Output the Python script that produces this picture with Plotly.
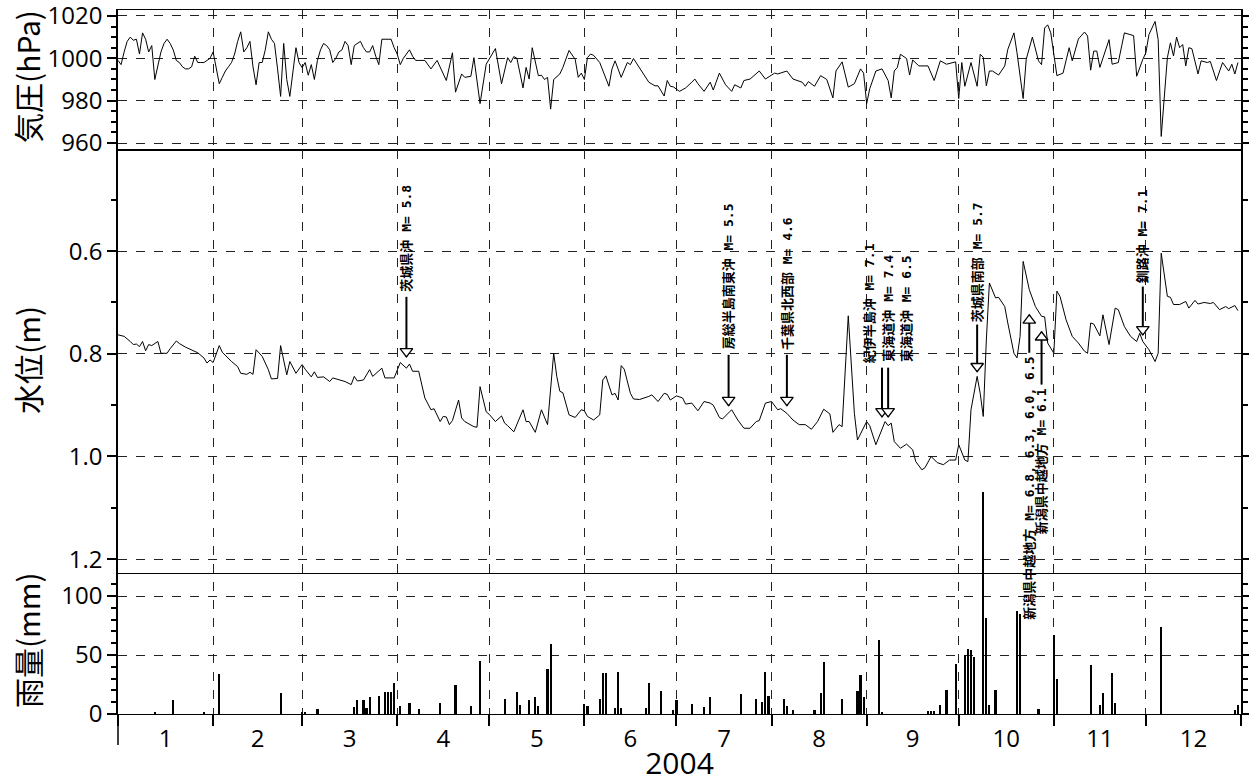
import pandas as pd
import plotly.graph_objects as go
from plotly.subplots import make_subplots

# ---------------------------------------------------------------- data
# day offsets count from 2004-01-01 (day 0)

pressure_day = list(range(99)) + [
    100, 102, 104, 107, 109, 110, 112, 113, 115, 116,
    118, 120, 122, 123, 125, 126, 127, 128, 129, 130,
    132, 133, 134, 135, 137, 138, 139, 140, 141, 142,
    144, 145, 147, 149, 150, 151, 152, 153, 154, 155,
    157, 160, 161, 162, 164, 166, 167, 168, 171, 173,
    175, 176, 178, 179, 180, 181, 183, 185, 187, 188,
    189, 191, 193, 194, 196, 198, 200, 201, 203, 204,
    206, 209, 211, 214, 215, 218, 220, 223, 224, 225,
    227, 229, 231, 233, 234, 236, 238, 240, 242, 243,
    244, 245, 247, 249, 251, 252, 253, 254, 255, 257,
    258, 259, 261, 264, 266, 268, 270, 273, 274, 275,
    276, 278, 280, 281, 282, 283, 284, 285, 287, 289,
    290, 292, 293, 295, 296, 298, 300, 301, 302, 303,
    304, 306, 308, 310, 311, 313, 315, 316, 317, 318,
    319, 320, 323, 324, 326, 328, 331, 332, 334, 335,
    336, 338, 339, 340, 342, 343, 344, 345, 346, 347,
    348, 349, 350, 352, 353, 355, 356, 358, 360, 362,
    363, 364, 365,
]
pressure_hpa = [
    999, 997, 1003, 1008, 1010, 1008.5, 1009, 1002, 1012, 1009,
    1003, 1006, 990, 997, 1003, 1007, 1009, 1007, 1004, 999,
    998, 996, 995, 995, 996, 1001, 998, 998, 998, 999,
    1000, 1003, 996, 988, 991, 994, 996, 998, 1002, 1008,
    1012.5, 1003, 1005, 1008, 996, 987.5, 998, 998, 1004, 1012.5,
    1009, 1007, 995, 982, 1007, 990, 982, 995, 1005, 998,
    995.6, 998, 992, 997, 990, 999, 1004, 1007, 1006, 1004,
    998, 1000, 1003, 1004, 1008, 1006, 997, 1006, 1007, 1008,
    1005, 1003, 1003, 1006, 1001, 997, 1009, 1009, 1009, 1009,
    1005, 1002, 997, 1000, 1002, 1004, 1001, 999, 999,
    999, 995, 999, 989.5, 1002.6, 984, 992.6, 991, 991.5, 1000.3,
    978.6, 997.2, 1002.6, 1004.6, 988, 995, 1000.3, 998, 1000.8, 1000,
    986, 995.7, 990.2, 1005, 991.8, 992, 990, 991, 976, 990,
    992.6, 995.7, 1003.7, 999.5, 991, 993, 990, 1000.3, 1002, 1001.4,
    998, 986.8, 995, 998.8, 991, 998, 997, 999.9, 993.3, 988.7,
    987, 987, 982.2, 989.5, 986.8, 986.5, 984.4, 986, 988.7, 990.2,
    988, 984.4, 988.7, 985, 993, 987.5, 984.4, 987.5, 986, 989.5,
    990.2, 994, 990.2, 993, 992.6, 994, 990.2, 988.7, 986.8, 989,
    986.8, 991.8, 990, 981.3, 994, 998.3, 986.4, 988, 995, 993,
    978.6, 985.6, 994, 995, 989.5, 981.3, 994, 995.7, 1001.9, 999.9,
    992.1, 999.2, 996.4, 996.4, 989.5, 998.8, 997.2, 998.3, 981, 998,
    986.8, 998, 986.8, 1001.9, 1000.5, 987, 994, 994, 992.1, 996.4,
    1004.2, 1012, 1002.6, 981, 999.5, 1010, 998.8, 997, 1014.3, 1015.8,
    1012, 991.8, 993, 1005, 998.8, 1009.1, 1012.4, 1010.5, 994.4, 1003.4,
    1003.4, 995.7, 1008.8, 997.2, 998, 1012, 1010.7, 991.5, 999.5, 1002.6,
    1011.2, 1017.4, 1008.8, 963.1, 1000.3, 1007.3, 1001.1, 1010, 1005, 1006.5,
    996.4, 1005, 1004.5, 992.6, 998.8, 998, 998.5, 989.5, 998, 994,
    997.2, 992.6, 998,
]

water_day = [
    0, 2, 4, 5, 6, 7, 8, 9, 10, 11,
    13, 14, 16, 17, 19, 20, 22, 26, 28, 29,
    30, 31, 33, 34, 37, 39, 40, 42, 43, 44,
    45, 47, 49, 50, 52, 53, 55, 56, 58, 60,
    61, 63, 64, 65, 67, 69, 70, 72, 74, 76,
    77, 78, 80, 82, 83, 86, 87, 90, 92, 94,
    95, 96, 98, 100, 102, 103, 105, 106, 107, 108,
    109, 111, 112, 113, 116, 117, 118, 120, 121, 123,
    125, 126, 127, 129, 132, 133, 134, 136, 138, 140,
    142, 143, 144, 145, 147, 149, 151, 152, 153, 155,
    157, 158, 159, 161, 162, 163, 164, 165, 167, 168,
    170, 173, 174, 176, 178, 179, 180, 182, 184, 185,
    187, 189, 191, 193, 194, 196, 197, 200, 202, 204,
    206, 208, 209, 211, 213, 215, 216, 218, 220, 222,
    224, 226, 228, 230, 232, 233, 235, 236, 238, 240,
    241, 244, 245, 247, 250, 251, 252, 253, 255, 257,
    259, 260, 262, 263, 265, 267, 269, 271, 273, 274,
    276, 277, 278, 280, 281, 282, 283, 284, 286, 287,
    289, 290, 292, 293, 294, 295, 297, 299, 301, 302,
    303, 305, 306, 307, 309, 311, 313, 315, 316, 317,
    318, 320, 321, 323, 325, 326, 328, 330, 332, 333,
    334, 336, 338, 339, 340, 342, 343, 344, 346, 348,
    349, 351, 352, 354, 356, 357, 359, 361, 362, 364,
    365,
]
water_m = [
    0.763, 0.766, 0.776, 0.782, 0.781, 0.786, 0.776, 0.794, 0.782, 0.784,
    0.776, 0.799, 0.799, 0.790, 0.775, 0.780, 0.787, 0.798, 0.808, 0.818,
    0.812, 0.817, 0.784, 0.797, 0.815, 0.825, 0.838, 0.840, 0.836, 0.840,
    0.792, 0.805, 0.831, 0.849, 0.848, 0.784, 0.841, 0.815, 0.838, 0.821,
    0.830, 0.845, 0.835, 0.846, 0.845, 0.854, 0.847, 0.850, 0.854, 0.860,
    0.844, 0.853, 0.851, 0.831, 0.844, 0.828, 0.847, 0.847, 0.817, 0.828,
    0.820, 0.834, 0.834, 0.886, 0.909, 0.907, 0.932, 0.922, 0.923, 0.938,
    0.930, 0.890, 0.925, 0.932, 0.942, 0.943, 0.864, 0.913, 0.918, 0.932,
    0.921, 0.935, 0.940, 0.952, 0.909, 0.932, 0.932, 0.953, 0.909, 0.938,
    0.799, 0.844, 0.873, 0.876, 0.919, 0.924, 0.909, 0.911, 0.922, 0.929,
    0.919, 0.851, 0.843, 0.880, 0.877, 0.890, 0.823, 0.830, 0.877, 0.888,
    0.889, 0.883, 0.880, 0.893, 0.877, 0.879, 0.890, 0.882, 0.886, 0.898,
    0.896, 0.911, 0.893, 0.896, 0.900, 0.924, 0.927, 0.909, 0.929, 0.945,
    0.945, 0.932, 0.930, 0.896, 0.893, 0.909, 0.907, 0.916, 0.929, 0.938,
    0.938, 0.947, 0.932, 0.908, 0.917, 0.953, 0.938, 0.942, 0.726, 0.916,
    0.968, 0.932, 0.940, 0.977, 0.932, 0.940, 0.935, 0.971, 0.984, 0.976,
    0.987, 1.010, 1.026, 1.022, 1.000, 1.012, 1.016, 1.007, 1.007, 0.977,
    1.007, 1.010, 0.909, 0.844, 0.877, 0.922, 0.773, 0.662, 0.691, 0.690,
    0.708, 0.740, 0.799, 0.808, 0.766, 0.620, 0.675, 0.708, 0.727, 0.728,
    0.779, 0.799, 0.678, 0.688, 0.734, 0.766, 0.779, 0.795, 0.799, 0.740,
    0.742, 0.765, 0.724, 0.782, 0.711, 0.714, 0.747, 0.766, 0.776, 0.760,
    0.776, 0.792, 0.815, 0.799, 0.604, 0.688, 0.690, 0.704, 0.704, 0.698,
    0.711, 0.696, 0.703, 0.700, 0.702, 0.700, 0.714, 0.708, 0.712, 0.706,
    0.716,
]

rain_day = [
    12, 18, 28, 33, 53, 60, 61, 65, 77, 78,
    80, 81, 82, 85, 87, 88, 89, 90, 92, 95,
    98, 105, 110, 115, 118, 126, 130, 131, 134, 136,
    137, 140, 141, 152, 153, 157, 158, 159, 162, 163,
    164, 172, 173, 177, 181, 182, 187, 191, 193, 203,
    208, 210, 211, 212, 217, 218, 220, 227, 229, 230,
    236, 241, 242, 243, 248, 249, 264, 265, 266, 268,
    270, 273, 276, 277, 278, 279, 282, 283, 284, 286,
    293, 294, 300, 305, 306, 317, 320, 321, 324, 325,
    340, 364, 365,
]
rain_mm = [
    2, 12, 2, 33.6, 17.5, 2, 2, 4, 6, 12,
    12, 5, 14, 15, 19, 19, 19, 26.5, 7, 9.6,
    4, 9, 24.6, 7, 45, 13, 18.4, 7.6, 12, 14.7,
    7, 37.8, 59.3, 8.5, 7, 13, 34.5, 34.5, 5, 35.8,
    5, 5, 26.5, 19.7, 3, 12, 8.2, 6, 14, 17,
    13, 10.4, 35.8, 15, 12.4, 7, 3, 3.4, 17.5, 44.3,
    12.4, 19.7, 33, 14, 62.7, 2, 2.5, 2.5, 2.5, 7.6,
    20.3, 42.4, 50, 54.8, 54.2, 48, 188, 81, 7.6, 20.3,
    87.5, 85, 4, 67, 29.4, 41.5, 7.6, 18, 34.5, 9.6,
    73.4, 3, 7.6,
]
rain_ticks = [0, 50, 100]
rain_minor_ticks = [10, 20, 30, 40, 60, 70, 80, 90, 110]

# earthquake captions: day, text, anchor level (m) and which end is anchored
quake_label_day = [94, 199, 218, 245, 251, 257, 280, 297, 301, 334]
quake_label_text = [
    "茨城県沖 M= 5.8",
    "房総半島南東沖 M= 5.5",
    "千葉県北西部 M= 4.6",
    "紀伊半島沖 M= 7.1",
    "東海道沖 M= 7.4",
    "東海道沖 M= 6.5",
    "茨城県南部 M= 5.7",
    "新潟県中越地方 M= 6.8, 6.3, 6.0, 6.5",
    "新潟県中越地方 M= 6.1",
    "釧路沖 M= 7.1",
]
quake_label_m = [0.681, 0.794, 0.794, 0.821, 0.818, 0.818, 0.740, 0.804, 0.866, 0.665]
quake_label_anchor = ["bottom"] * 7 + ["top", "top", "bottom"]

# earthquake arrows: day, tail level and tip level (m)
arrow_day = [94, 199, 218, 249, 251, 280, 297, 301, 334]
arrow_tail_m = [0.689, 0.802, 0.802, 0.827, 0.827, 0.743, 0.798, 0.860, 0.669]
arrow_tip_m = [0.806, 0.901, 0.901, 0.923, 0.923, 0.835, 0.724, 0.757, 0.763]

month_axis_title = "2004"

# ---------------------------------------------------------------- geometry
START = pd.Timestamp("2004-01-01")
X_RANGE = ["2004-01-01", "2005-01-01"]

PANEL_PX = [140, 423, 141]            # pressure, water level, rainfall heights
TOTAL_PX = sum(PANEL_PX)
RAIN_TOP = 119.5                      # rainfall maximum shown in the bottom panel (mm)
# the rainfall axis keeps its scale but runs on up behind the water-level
# panel, so a bar taller than the panel is not cut off
RAIN_DOMAIN_TOP = (PANEL_PX[1] + PANEL_PX[2]) / TOTAL_PX
RAIN_AXIS_TOP = RAIN_TOP * (PANEL_PX[1] + PANEL_PX[2]) / PANEL_PX[2]

WATER_RANGE = [1.227, 0.403]
PX_M = (WATER_RANGE[0] - WATER_RANGE[1]) / PANEL_PX[1]   # metres per pixel
HEAD = 11                                                # arrow-head marker size
HEAD_OFF = HEAD / 2 * PX_M

TICK_FONT = dict(family="Open Sans, DejaVu Sans", size=24, color="black")
CJK = "Noto Sans CJK JP"


def to_dates(days):
    return [START + pd.Timedelta(days=d) for d in days]


fig = make_subplots(rows=3, cols=1, shared_xaxes=True, vertical_spacing=0,
                    row_heights=PANEL_PX)

# rainfall
fig.add_trace(go.Bar(x=to_dates(rain_day), y=rain_mm, width=0.7 * 86400000,
                     marker=dict(color="black", line=dict(width=0))), row=3, col=1)

# pressure
fig.add_trace(go.Scatter(x=to_dates(pressure_day), y=pressure_hpa, mode="lines",
                         line=dict(color="black", width=1)), row=1, col=1)

# water level
fig.add_trace(go.Scatter(x=to_dates(water_day), y=water_m, mode="lines",
                         line=dict(color="black", width=1)), row=2, col=1)

# arrow shafts
ax_x, ax_y = [], []
for d, t0, t1 in zip(arrow_day, arrow_tail_m, arrow_tip_m):
    dt = START + pd.Timedelta(days=d)
    ax_x += [dt, dt, None]
    ax_y += [t0, t1, None]
fig.add_trace(go.Scatter(x=ax_x, y=ax_y, mode="lines",
                         line=dict(color="black", width=2)), row=2, col=1)

# hollow arrow heads (apex placed on the tip)
down = [(d, tip - HEAD_OFF) for d, t0, tip in zip(arrow_day, arrow_tail_m, arrow_tip_m) if tip > t0]
up = [(d, tip + HEAD_OFF) for d, t0, tip in zip(arrow_day, arrow_tail_m, arrow_tip_m) if tip < t0]
for pts, sym in ((down, "triangle-down"), (up, "triangle-up")):
    fig.add_trace(go.Scatter(
        x=to_dates([p[0] for p in pts]), y=[p[1] for p in pts], mode="markers",
        marker=dict(symbol=sym, size=HEAD, color="white",
                    line=dict(color="black", width=1.3))), row=2, col=1)

# earthquake captions
for d, txt, m, anc in zip(quake_label_day, quake_label_text, quake_label_m, quake_label_anchor):
    fig.add_annotation(x=START + pd.Timedelta(days=d), y=m, xref="x2", yref="y2",
                       text=txt, textangle=-90, showarrow=False,
                       xanchor="center", yanchor=anc, borderpad=0,
                       font=dict(family="DejaVu Sans Mono, " + CJK, size=13,
                                 color="black", weight="bold"))

# panel titles
for label, ypos in (("気圧(hPa)", 0.905), ("水位(m)", 0.503), ("雨量(mm)", 0.105)):
    fig.add_annotation(x=-0.081, y=ypos, xref="paper", yref="paper", text=label,
                       textangle=-90, showarrow=False, xanchor="center", yanchor="middle",
                       font=dict(family=CJK, size=30, color="black"))

# x axes: month boundaries as dashed grid, month numbers centred in each month
fig.update_xaxes(type="date", range=X_RANGE,
                 tick0="2004-01-01", dtick="M1", automargin=False,
                 showgrid=True, gridcolor="#222", griddash="dash", gridwidth=1,
                 showline=True, linecolor="black", linewidth=1, mirror=True,
                 ticks="", showticklabels=False, zeroline=False)
fig.update_xaxes(row=3, col=1, ticks="outside", ticklen=11, tickwidth=1.5, tickcolor="black",
                 showticklabels=True, tickformat="%-m", ticklabelmode="period",
                 tickfont=TICK_FONT, ticklabelstandoff=-8,
                 title=dict(text=month_axis_title, standoff=2,
                            font=dict(family="Open Sans, DejaVu Sans", size=30, color="black")))

common_y = dict(showline=True, linecolor="black", linewidth=1.5, mirror="ticks",
                ticks="outside", ticklen=9, tickwidth=1.5, tickcolor="black",
                showgrid=True, gridcolor="#222", griddash="dash", gridwidth=1,
                zeroline=False, tickfont=TICK_FONT, automargin=False,
                ticklabeloverflow="allow")
fig.update_yaxes(row=1, col=1, range=[956.7, 1022.8], tick0=0, dtick=20,
                 minor=dict(dtick=5, tick0=0, ticks="outside", ticklen=5,
                            tickcolor="black", showgrid=False), **common_y)
fig.update_yaxes(row=2, col=1, range=WATER_RANGE, tick0=0, dtick=0.2, tickformat=".1f",
                 minor=dict(dtick=0.1, tick0=0, ticks="outside", ticklen=5,
                            tickcolor="black", showgrid=False), **common_y)
fig.update_yaxes(row=3, col=1, range=[0, RAIN_AXIS_TOP], domain=[0, RAIN_DOMAIN_TOP],
                 tickmode="array", tickvals=rain_ticks,
                 minor=dict(tickmode="array", tickvals=rain_minor_ticks, ticks="outside",
                            ticklen=5, tickcolor="black", showgrid=False), **common_y)

# left spine runs a little below the rainfall baseline
fig.add_shape(type="line", xref="paper", yref="paper", x0=0, x1=0, y0=0, y1=-31 / TOTAL_PX,
              line=dict(color="black", width=1.5))

# transparent plot areas: the rainfall area overlaps the water-level panel
fig.update_layout(width=1249, height=783, autosize=False,
                  margin=dict(l=118, r=8, t=10, b=69),
                  paper_bgcolor="white", plot_bgcolor="rgba(0,0,0,0)",
                  showlegend=False, bargap=0)

fig.write_html("out.html")
